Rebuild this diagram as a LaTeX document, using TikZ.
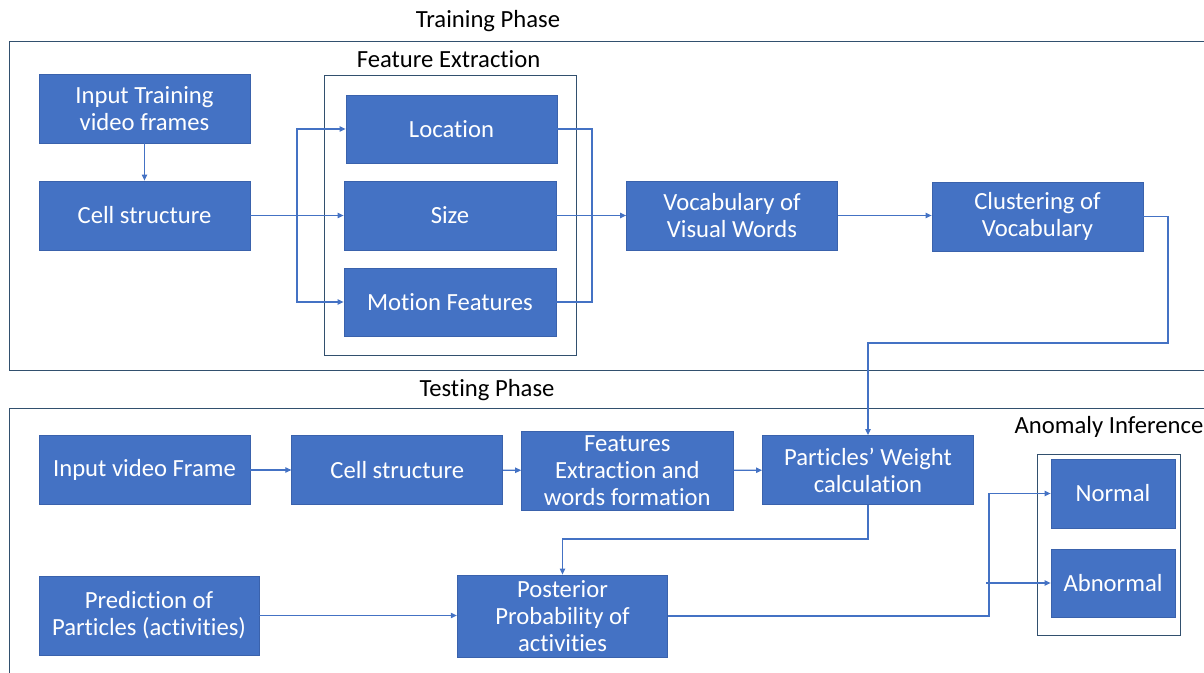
\documentclass[tikz,border=0pt]{standalone}
\usepackage{fontspec}
\setmainfont{Carlito}[Ligatures=NoCommon]
\usetikzlibrary{arrows.meta}
\usetikzlibrary{positioning}

\definecolor{boxblue}{RGB}{68,114,196}
\definecolor{edgeblue}{RGB}{58,98,172}
\definecolor{framegray}{RGB}{50,80,110}

\tikzset{
  blk/.style={draw=edgeblue, fill=boxblue, text=white, align=center, line width=0.6pt, inner sep=2pt, font=\fontsize{18.5}{20.3}\selectfont},
  conn/.style={draw=boxblue, line width=0.8pt, -{Triangle[length=4.5pt,width=4pt]}},
  wire/.style={draw=boxblue, line width=0.8pt},
  frame/.style={draw=framegray, line width=0.6pt},
  title/.style={font=\fontsize{18.5}{20.3}\selectfont, text=black, inner sep=0.75pt},
}

\begin{document}
\begin{tikzpicture}[x=0.75pt,y=0.75pt,yscale=-1,xscale=1]
\useasboundingbox (0,0) rectangle (1204,673);

%Shape: Frames
\draw[frame] (1204,41) -- (9,41) -- (9,370) -- (1204,370);
\draw[frame] (324,75) rectangle (576,355);
\draw[frame] (1204,408) -- (9,408) -- (9,673);
\draw[frame] (1037.6,454.7) rectangle (1180,635);

% Text Node
\node[title] (trainLbl) at (488,21) {Training Phase};
% Text Node
\node[title] (featLbl) at (448.6,59) {Feature Extraction};
% Text Node
\node[title] (testLbl) at (487,390) {Testing Phase};
% Text Node
\node[title] (anomLbl) at (1109,427) {Anomaly Inference};

%Shape: Training boxes
\node[blk, minimum width=158.25pt, minimum height=51.75pt] (inTrain) at (144.5,108.5) {Input Training\\video frames};
\node[blk, minimum width=158.25pt, minimum height=51.75pt] (cellA) at (144.5,215.5) {Cell structure};
\node[blk, minimum width=158.25pt, minimum height=51pt] (loc) at (451.5,129) {Location};
\node[blk, minimum width=159pt, minimum height=51.75pt] (sizeF) at (450,215.5) {Size};
\node[blk, minimum width=159pt, minimum height=51pt] (motion) at (450,302) {Motion Features};
\node[blk, minimum width=158.25pt, minimum height=51.75pt] (vocab) at (732,215.5) {Vocabulary of\\Visual Words};
\node[blk, minimum width=158.25pt, minimum height=51.75pt] (clust) at (1037.5,216.5) {Clustering of\\Vocabulary};

%Shape: Testing boxes
\node[blk, minimum width=158.25pt, minimum height=51.75pt] (inVid) at (144.5,470) {Input video Frame};
\node[blk, minimum width=158.25pt, minimum height=51.75pt] (cellB) at (397.3,470) {Cell structure};
\node[blk, minimum width=158.5pt, minimum height=59.25pt] (featW) at (627.3,470.5) {Features\\Extraction and\\words formation};
\node[blk, minimum width=158.25pt, minimum height=51.75pt] (weight) at (868,470) {Particles’ Weight\\calculation};
\node[blk, minimum width=165pt, minimum height=59.25pt] (pred) at (149,615.5) {Prediction of\\Particles (activities)};
\node[blk, minimum width=157.9pt, minimum height=61.5pt] (post) at (562.5,616) {Posterior\\Probability of\\activities};
\node[blk, minimum width=93pt, minimum height=51.75pt] (normal) at (1113,493.5) {Normal};
\node[blk, minimum width=93pt, minimum height=51pt] (abnormal) at (1113,583) {Abnormal};

%Straight Lines: training
\draw[conn] (inTrain) -- (cellA);
\coordinate (split) at (297,215.5);
\draw[conn] (cellA) -- (sizeF);
\draw[conn] (split) |- (loc);
\draw[conn] (split) |- (motion);
\coordinate (merge) at (592,215.5);
\draw[wire] (loc) -| (merge);
\draw[wire] (motion) -| (merge);
\draw[conn] (sizeF) -- (vocab);
\draw[conn] (vocab.east) -- (vocab.east -| clust.west);
\coordinate (turnA) at (1168,343);
\draw[conn] (clust.east) -| (turnA) -| (weight.north);

%Straight Lines: testing
\draw[conn] (inVid) -- (cellB);
\draw[conn] (cellB) -- (featW);
\draw[conn] (featW) -- (weight);
\coordinate (turnB) at (868,539);
\draw[conn] (weight.south) -- (turnB) -| (post.north);
\draw[conn] (pred.east) -- (pred.east -| post.west);
\coordinate (fork) at (989,616);
\draw[conn] (post.east) -- (post.east -| fork) |- (normal.west);
\coordinate (forkB) at (986,583);
\draw[conn] (forkB) -- (abnormal.west);

\end{tikzpicture}
\end{document}
